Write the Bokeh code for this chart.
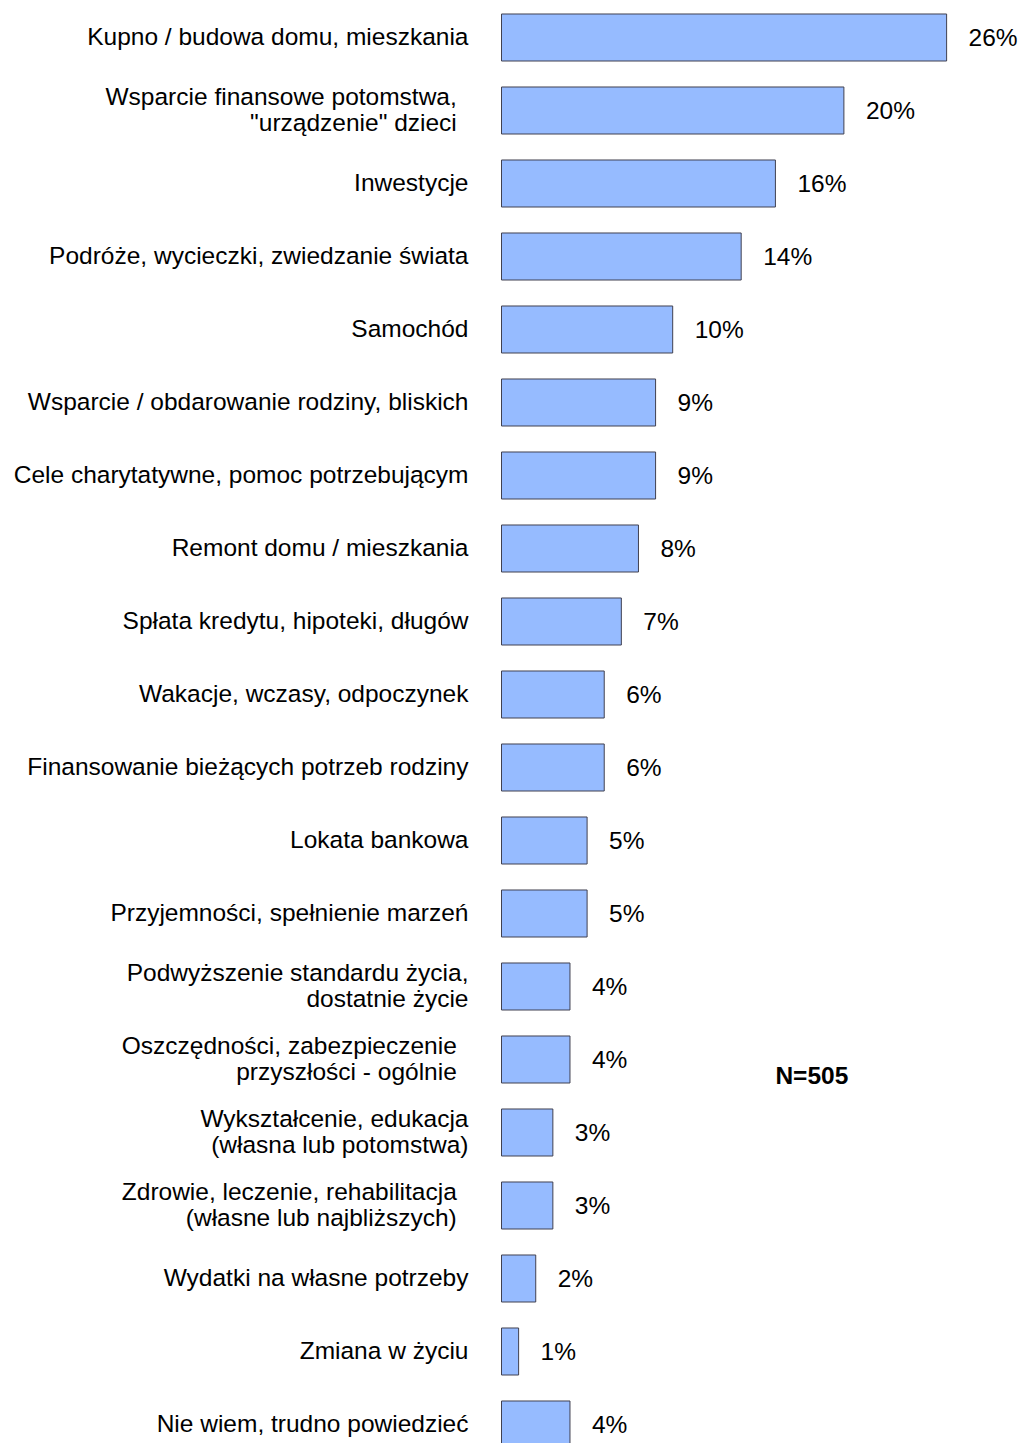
from bokeh.plotting import figure
from bokeh.models import ColumnDataSource, Range1d, Label
from bokeh.core.properties import value
from bokeh.embed import file_html
from bokeh.resources import INLINE

categories = [
    "Kupno / budowa domu, mieszkania",
    "Wsparcie finansowe potomstwa,\u00a0\u2009\n\"urządzenie\" dzieci\u00a0\u2009",
    "Inwestycje",
    "Podróże, wycieczki, zwiedzanie świata",
    "Samochód",
    "Wsparcie / obdarowanie rodziny, bliskich",
    "Cele charytatywne, pomoc potrzebującym",
    "Remont domu / mieszkania",
    "Spłata kredytu, hipoteki, długów",
    "Wakacje, wczasy, odpoczynek",
    "Finansowanie bieżących potrzeb rodziny",
    "Lokata bankowa",
    "Przyjemności, spełnienie marzeń",
    "Podwyższenie standardu życia,\ndostatnie życie",
    "Oszczędności, zabezpieczenie\u00a0\u2009\nprzyszłości - ogólnie\u00a0\u2009",
    "Wykształcenie, edukacja\n(własna lub potomstwa)",
    "Zdrowie, leczenie, rehabilitacja\u00a0\u2009\n(własne lub najbliższych)\u00a0\u2009",
    "Wydatki na własne potrzeby",
    "Zmiana w życiu",
    "Nie wiem, trudno powiedzieć",
]
values = [26, 20, 16, 14, 10, 9, 9, 8, 7, 6, 6, 5, 5, 4, 4, 3, 3, 2, 1, 4]
value_labels = [f"{v}%" for v in values]
note = "N=505"

ypos = [-i for i in range(len(categories))]
src = ColumnDataSource(dict(y=ypos, v=values, cat=categories, lab=value_labels, zero=[0] * len(values)))

W, H = 1023, 1443
k = 17.12  # px per percent
x0 = -501 / k
x1 = x0 + W / k
row = 73.0
ytop = 37 / row
ybot = ytop - H / row

p = figure(width=W, height=H, output_backend="svg", toolbar_location=None,
           x_range=Range1d(x0, x1), y_range=Range1d(ybot, ytop),
           min_border=0, min_border_left=0, min_border_right=0,
           min_border_top=0, min_border_bottom=0)
p.axis.visible = False
p.grid.visible = False
p.outline_line_color = None
p.background_fill_color = "white"
p.border_fill_color = "white"

p.hbar(y="y", left="zero", right="v", height=0.644, source=src,
       fill_color="#96BBFF", line_color="#404050", line_width=1)

FONT = value("Liberation Sans")
FS = "24.5px"
p.text(x="zero", y="y", text="cat", source=src, text_align="right", text_baseline="middle",
       x_offset=-33, y_offset=-1, text_font=FONT, text_font_size=FS, text_color="black",
       text_line_height=0.98)
p.text(x="v", y="y", text="lab", source=src, text_align="left", text_baseline="middle",
       x_offset=22, text_font=FONT, text_font_size=FS, text_color="black")

lab = Label(x=16.0, y=-14.22, text=note, text_align="left", text_baseline="middle",
            text_font="Liberation Sans", text_font_size=FS, text_font_style="bold", text_color="black")
p.add_layout(lab)

open("out.html", "w").write(file_html(p, INLINE))
